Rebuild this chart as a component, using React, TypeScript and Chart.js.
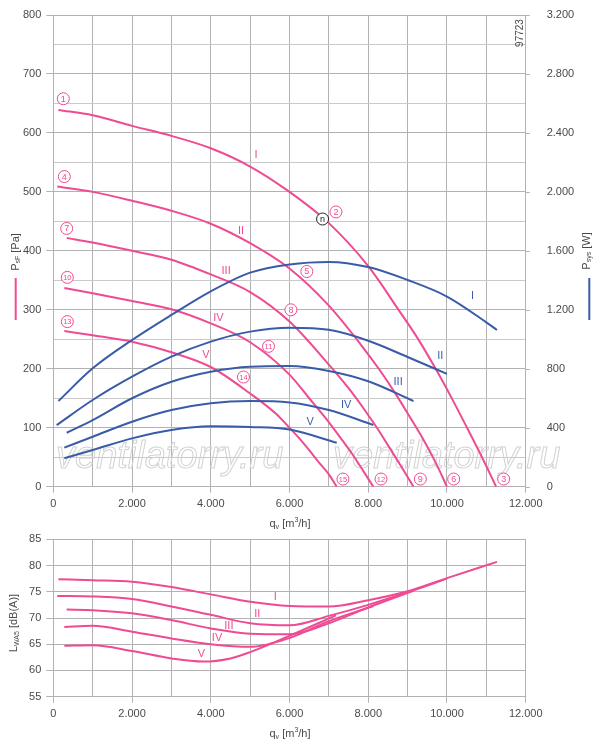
import { useEffect, useRef } from "react"
import { Chart, registerables } from "chart.js"

Chart.register(...registerables)

type Pt = [number, number]

// static pressure psF [Pa] for speed steps I..V
const pressureI: Pt[] = [[130, 639], [1000, 630], [2000, 612], [3000, 595], [4000, 574], [5000, 543], [6000, 500], [7000, 447], [8000, 374], [8770, 300], [9280, 249], [9720, 199], [10130, 149], [10510, 100], [10890, 50], [11250, 0]]
const pressureII: Pt[] = [[100, 509], [1000, 500], [2000, 485], [3000, 468], [4000, 446], [5000, 413], [6000, 370], [7000, 307], [7800, 242], [8300, 197], [8700, 157], [9050, 119], [9400, 80], [9720, 40], [10000, 0]]
const pressureIII: Pt[] = [[340, 422], [1000, 414], [2000, 400], [3000, 385], [4000, 360], [5000, 330], [6000, 280], [7000, 207], [7500, 167], [7900, 131], [8250, 97], [8550, 65], [8850, 33], [9150, 0]]
const pressureIV: Pt[] = [[280, 337], [1000, 328], [2000, 315], [3000, 301], [4000, 277], [5000, 245], [6000, 190], [6500, 150], [7050, 105], [7350, 78], [7620, 53], [7880, 26], [8130, 0]]
const pressureV: Pt[] = [[280, 264], [1000, 257], [2000, 246], [3000, 228], [4000, 203], [5000, 158], [5650, 124], [6000, 100], [6250, 82], [6500, 62], [6750, 41], [7000, 21], [7200, 0]]

// power consumption Psys [W]
const powerI: Pt[] = [[130, 581], [1000, 803], [2000, 995], [3000, 1165], [4000, 1325], [5000, 1452], [6000, 1508], [7000, 1525], [8000, 1490], [9000, 1402], [10000, 1290], [11000, 1115], [11270, 1063]]
const powerII: Pt[] = [[85, 418], [1000, 588], [2000, 746], [3000, 882], [4000, 984], [5000, 1052], [6000, 1078], [7000, 1064], [8000, 990], [9000, 880], [10000, 765]]
const powerIII: Pt[] = [[340, 366], [1000, 452], [2000, 600], [3000, 712], [4000, 780], [5000, 814], [6000, 818], [7000, 785], [8000, 715], [9150, 581]]
const powerIV: Pt[] = [[280, 265], [1000, 339], [2000, 441], [3000, 520], [4000, 566], [5000, 581], [6000, 572], [7000, 520], [8130, 419]]
const powerV: Pt[] = [[280, 193], [1000, 249], [2000, 328], [3000, 385], [4000, 410], [5000, 405], [6000, 388], [7200, 298]]

// sound power LWA5 [dB(A)]
const soundI: Pt[] = [[130, 77.4], [1000, 77.2], [2000, 76.9], [3000, 75.9], [4000, 74.5], [5000, 73.1], [6000, 72.3], [7000, 72.2], [8000, 73.4], [9000, 75.1], [10000, 77.6], [11270, 80.7]]
const soundII: Pt[] = [[100, 74.2], [1000, 74.1], [2000, 73.6], [3000, 72.2], [4000, 70.6], [5000, 69.0], [6000, 68.6], [7000, 70.4], [8000, 72.5], [9000, 74.9], [10000, 77.5]]
const soundIII: Pt[] = [[340, 71.6], [1000, 71.5], [2000, 70.9], [3000, 69.6], [4000, 68.0], [5000, 67.0], [6000, 66.9], [7000, 69.0], [8000, 72.0], [9150, 75.2]]
const soundIV: Pt[] = [[280, 68.3], [1000, 68.5], [2000, 67.4], [3000, 66.1], [4000, 65.0], [5000, 64.5], [6000, 66.2], [7000, 69.4], [8130, 72.3]]
const soundV: Pt[] = [[280, 64.7], [1000, 64.8], [2000, 63.7], [3000, 62.3], [3800, 61.7], [4500, 62.3], [5000, 63.5], [6000, 66.6], [7180, 70.5]]

const steps = ["I", "II", "III", "IV", "V"]
const flowTicks = [0, 2000, 4000, 6000, 8000, 10000, 12000]
const pressureTicks = [0, 100, 200, 300, 400, 500, 600, 700, 800]
const powerTicks = [0, 400, 800, 1200, 1600, 2000, 2400, 2800, 3200]
const soundTicks = [55, 60, 65, 70, 75, 80, 85]

// label anchors, data coordinates
const pressureStepAt: Pt[] = [[5150, 563], [4770, 434], [4390, 366], [4195, 287], [3875, 223]]
const powerStepAt: Pt[] = [[10650, 1293], [9830, 887], [8760, 708], [7440, 556], [6525, 436]]
const soundStepAt: Pt[] = [[5640, 74.1], [5180, 70.8], [4460, 68.5], [4160, 66.1], [3760, 63.1]]
const circleNumbers = ["1", "2", "3", "4", "5", "6", "7", "8", "9", "10", "11", "12", "13", "14", "15"]
const circleAt: Pt[] = [[254, 658], [7180, 466], [11440, 13], [280, 526], [6440, 365], [10170, 13], [340, 438], [6036, 300], [9324, 13], [356, 355], [5467, 238], [8325, 13], [356, 280], [4830, 186], [7358, 13]]
const speedMarkAt: Pt = [6840, 454]

const PINK = "#ef4b92"
const BLUE = "#3a5ca8"
const TEXT = "#4a4a4a"
const FONT = "'Liberation Sans', Arial, sans-serif"
const GRID = "#b2b2b2"
const GRID_LIGHT = "#c9c9c9"

function fmt(v: number) {
  if (v < 1000) return String(v)
  return Math.floor(v / 1000) + "." + String(v % 1000).padStart(3, "0")
}

function toXY(pts: Pt[]) {
  return pts.map(([x, y]) => ({ x, y }))
}

type Part = { t: string; sub?: boolean; sup?: boolean }

function drawRich(ctx: CanvasRenderingContext2D, parts: Part[], x: number, y: number, rotate = false) {
  ctx.save()
  ctx.translate(x, y)
  if (rotate) ctx.rotate(-Math.PI / 2)
  ctx.fillStyle = TEXT
  ctx.textBaseline = "middle"
  ctx.textAlign = "left"
  const widths = parts.map(p => {
    ctx.font = `${p.sub || p.sup ? 7 : 11}px ${FONT}`
    return ctx.measureText(p.t).width
  })
  let cx = -widths.reduce((a, b) => a + b, 0) / 2
  parts.forEach((p, i) => {
    ctx.font = `${p.sub || p.sup ? 7 : 11}px ${FONT}`
    ctx.fillText(p.t, cx, p.sub ? 3 : p.sup ? -4 : 0)
    cx += widths[i]
  })
  ctx.restore()
}

const flowTitle: Part[] = [{ t: "q" }, { t: "v", sub: true }, { t: " [m" }, { t: "3", sup: true }, { t: "/h]" }]

function lineSet(pts: Pt[], color: string, axis = "y") {
  return {
    data: toXY(pts),
    borderColor: color,
    borderWidth: 2,
    pointRadius: 0,
    fill: false,
    cubicInterpolationMode: "monotone" as const,
    yAxisID: axis,
  }
}

function xScale(height: number) {
  return {
    type: "linear" as const,
    min: 0,
    max: 12000,
    ticks: {
      stepSize: 1000,
      autoSkip: false,
      maxRotation: 0,
      padding: 5,
      color: TEXT,
      font: { family: FONT, size: 11 },
      callback: (v: any) => (flowTicks.includes(v) ? fmt(v) : ""),
    },
    grid: {
      color: GRID,
      tickLength: 6,
      tickColor: (c: any) => (flowTicks.includes(c.tick?.value) ? GRID : "transparent"),
    },
    border: { color: GRID },
    afterFit: (s: any) => { s.height = height },
  }
}

function PerformanceChart() {
  const ref = useRef<HTMLCanvasElement>(null)

  useEffect(() => {
    if (!ref.current) return
    const ctx = ref.current.getContext("2d")
    if (!ctx) return

    const pressure = [pressureI, pressureII, pressureIII, pressureIV, pressureV]
    const power = [powerI, powerII, powerIII, powerIV, powerV]

    const annotations = {
      id: "annotations",
      beforeDatasetsDraw(chart: any) {
        const c = chart.ctx
        c.save()
        c.font = `italic 38px ${FONT}`
        c.strokeStyle = "#d2d2d2"
        c.lineWidth = 1
        c.textBaseline = "alphabetic"
        c.strokeText("ventilatorry.ru", 56, 468)
        c.strokeText("ventilatorry.ru", 333, 468)
        c.restore()
      },
      afterDraw(chart: any) {
        const c = chart.ctx
        const x = chart.scales.x
        const y = chart.scales.y
        const y1 = chart.scales.y1
        c.save()

        // short tick marks of the right axis
        c.strokeStyle = GRID
        c.lineWidth = 1
        powerTicks.forEach(v => {
          const py = Math.round(y1.getPixelForValue(v)) + 0.5
          c.beginPath()
          c.moveTo(chart.chartArea.right, py)
          c.lineTo(chart.chartArea.right + 4, py)
          c.stroke()
        })

        c.textAlign = "center"
        c.textBaseline = "middle"
        c.font = `11px ${FONT}`
        steps.forEach((s, i) => {
          c.fillStyle = PINK
          c.fillText(s, x.getPixelForValue(pressureStepAt[i][0]), y.getPixelForValue(pressureStepAt[i][1]))
          c.fillStyle = BLUE
          c.fillText(s, x.getPixelForValue(powerStepAt[i][0]), y1.getPixelForValue(powerStepAt[i][1]))
        })
        const circled = (px: number, py: number, t: string, color: string) => {
          c.beginPath()
          c.arc(px, py, 6, 0, Math.PI * 2)
          c.fillStyle = "#fff"
          c.fill()
          c.strokeStyle = color
          c.lineWidth = 1
          c.stroke()
          c.fillStyle = color
          c.font = `${t.length > 1 ? 7.5 : 9}px ${FONT}`
          c.fillText(t, px, py + 0.5)
        }
        circleNumbers.forEach((n, i) => {
          circled(x.getPixelForValue(circleAt[i][0]), y.getPixelForValue(circleAt[i][1]), n, PINK)
        })
        circled(x.getPixelForValue(speedMarkAt[0]), y.getPixelForValue(speedMarkAt[1]), "n", "#222")

        // id number, rotated
        c.save()
        c.translate(520, 33)
        c.rotate(-Math.PI / 2)
        c.fillStyle = TEXT
        c.font = `10px ${FONT}`
        c.fillText("97723", 0, 0)
        c.restore()

        drawRich(c, flowTitle, 290, 524)
        drawRich(c, [{ t: "P" }, { t: "sF", sub: true }, { t: " [Pa]" }], 15.5, 252, true)
        drawRich(c, [{ t: "P" }, { t: "sys", sub: true }, { t: " [W]" }], 586.5, 251, true)

        c.lineWidth = 2
        c.strokeStyle = PINK
        c.beginPath()
        c.moveTo(15.7, 278)
        c.lineTo(15.7, 320)
        c.stroke()
        c.strokeStyle = BLUE
        c.beginPath()
        c.moveTo(589.3, 278)
        c.lineTo(589.3, 320)
        c.stroke()
        c.restore()
      },
    }

    const chart = new Chart(ctx, {
      type: "line",
      data: {
        datasets: [
          ...power.map(p => lineSet(p, BLUE, "y1")),
          ...pressure.map(p => lineSet(p, PINK)),
        ],
      },
      options: {
        responsive: false,
        animation: false,
        layout: { padding: { top: 15, left: 0, right: 0, bottom: 0 } },
        plugins: { legend: { display: false }, tooltip: { enabled: false } },
        scales: {
          x: xScale(45.3),
          y: {
            type: "linear",
            min: 0,
            max: 800,
            ticks: {
              stepSize: 50,
              autoSkip: false,
              padding: 5,
              color: TEXT,
              font: { family: FONT, size: 11 },
              callback: (v: any) => (pressureTicks.includes(v) ? fmt(v) : ""),
            },
            grid: {
              color: (c: any) => (pressureTicks.includes(c.tick?.value) ? GRID : GRID_LIGHT),
              tickLength: 7,
              tickColor: (c: any) => (pressureTicks.includes(c.tick?.value) ? GRID : "transparent"),
            },
            border: { color: GRID },
            afterFit: (s: any) => { s.width = 53.3 },
          },
          y1: {
            type: "linear",
            position: "right",
            min: 0,
            max: 3200,
            ticks: {
              stepSize: 200,
              autoSkip: false,
              padding: 4,
              color: TEXT,
              font: { family: FONT, size: 11 },
              callback: (v: any) => (powerTicks.includes(v) ? fmt(v) : ""),
            },
            grid: {
              drawOnChartArea: false,
              tickLength: 17,
              tickColor: "transparent",
            },
            border: { color: GRID },
            afterFit: (s: any) => { s.width = 74.3 },
          },
        },
      },
      plugins: [annotations],
    } as any)

    return () => chart.destroy()
  }, [])

  return <canvas ref={ref} width={600} height={532} style={{ display: "block", width: 600, height: 532 }} />
}

function SoundChart() {
  const ref = useRef<HTMLCanvasElement>(null)

  useEffect(() => {
    if (!ref.current) return
    const ctx = ref.current.getContext("2d")
    if (!ctx) return

    const sound = [soundI, soundII, soundIII, soundIV, soundV]

    const annotations = {
      id: "soundAnnotations",
      afterDraw(chart: any) {
        const c = chart.ctx
        const x = chart.scales.x
        const y = chart.scales.y
        c.save()
        c.textAlign = "center"
        c.textBaseline = "middle"
        c.font = `11px ${FONT}`
        c.fillStyle = PINK
        steps.forEach((s, i) => {
          c.fillText(s, x.getPixelForValue(soundStepAt[i][0]), y.getPixelForValue(soundStepAt[i][1]))
        })
        drawRich(c, flowTitle, 290, 202)
        drawRich(c, [{ t: "L" }, { t: "WA5", sub: true }, { t: " [dB(A)]" }], 14, 91, true)
        c.restore()
      },
    }

    const chart = new Chart(ctx, {
      type: "line",
      data: { datasets: sound.map(p => lineSet(p, PINK)) },
      options: {
        responsive: false,
        animation: false,
        layout: { padding: { top: 7.3, left: 0, right: 74.3, bottom: 0 } },
        plugins: { legend: { display: false }, tooltip: { enabled: false } },
        scales: {
          x: xScale(50.3),
          y: {
            type: "linear",
            min: 55,
            max: 85,
            ticks: {
              stepSize: 5,
              autoSkip: false,
              padding: 5,
              color: TEXT,
              font: { family: FONT, size: 11, lineHeight: 0.4 },
              callback: (v: any) => (soundTicks.includes(v) ? String(v) : ""),
            },
            grid: { color: GRID, tickLength: 7, tickColor: GRID },
            border: { color: GRID },
            afterFit: (s: any) => { s.width = 53.3 },
          },
        },
      },
      plugins: [annotations],
    } as any)

    return () => chart.destroy()
  }, [])

  return <canvas ref={ref} width={600} height={215} style={{ display: "block", width: 600, height: 215 }} />
}

export default function App() {
  return (
    <div style={{ position: "absolute", left: 0, top: 0, width: 600, height: 747, background: "#fff" }}>
      <PerformanceChart />
      <SoundChart />
    </div>
  )
}
